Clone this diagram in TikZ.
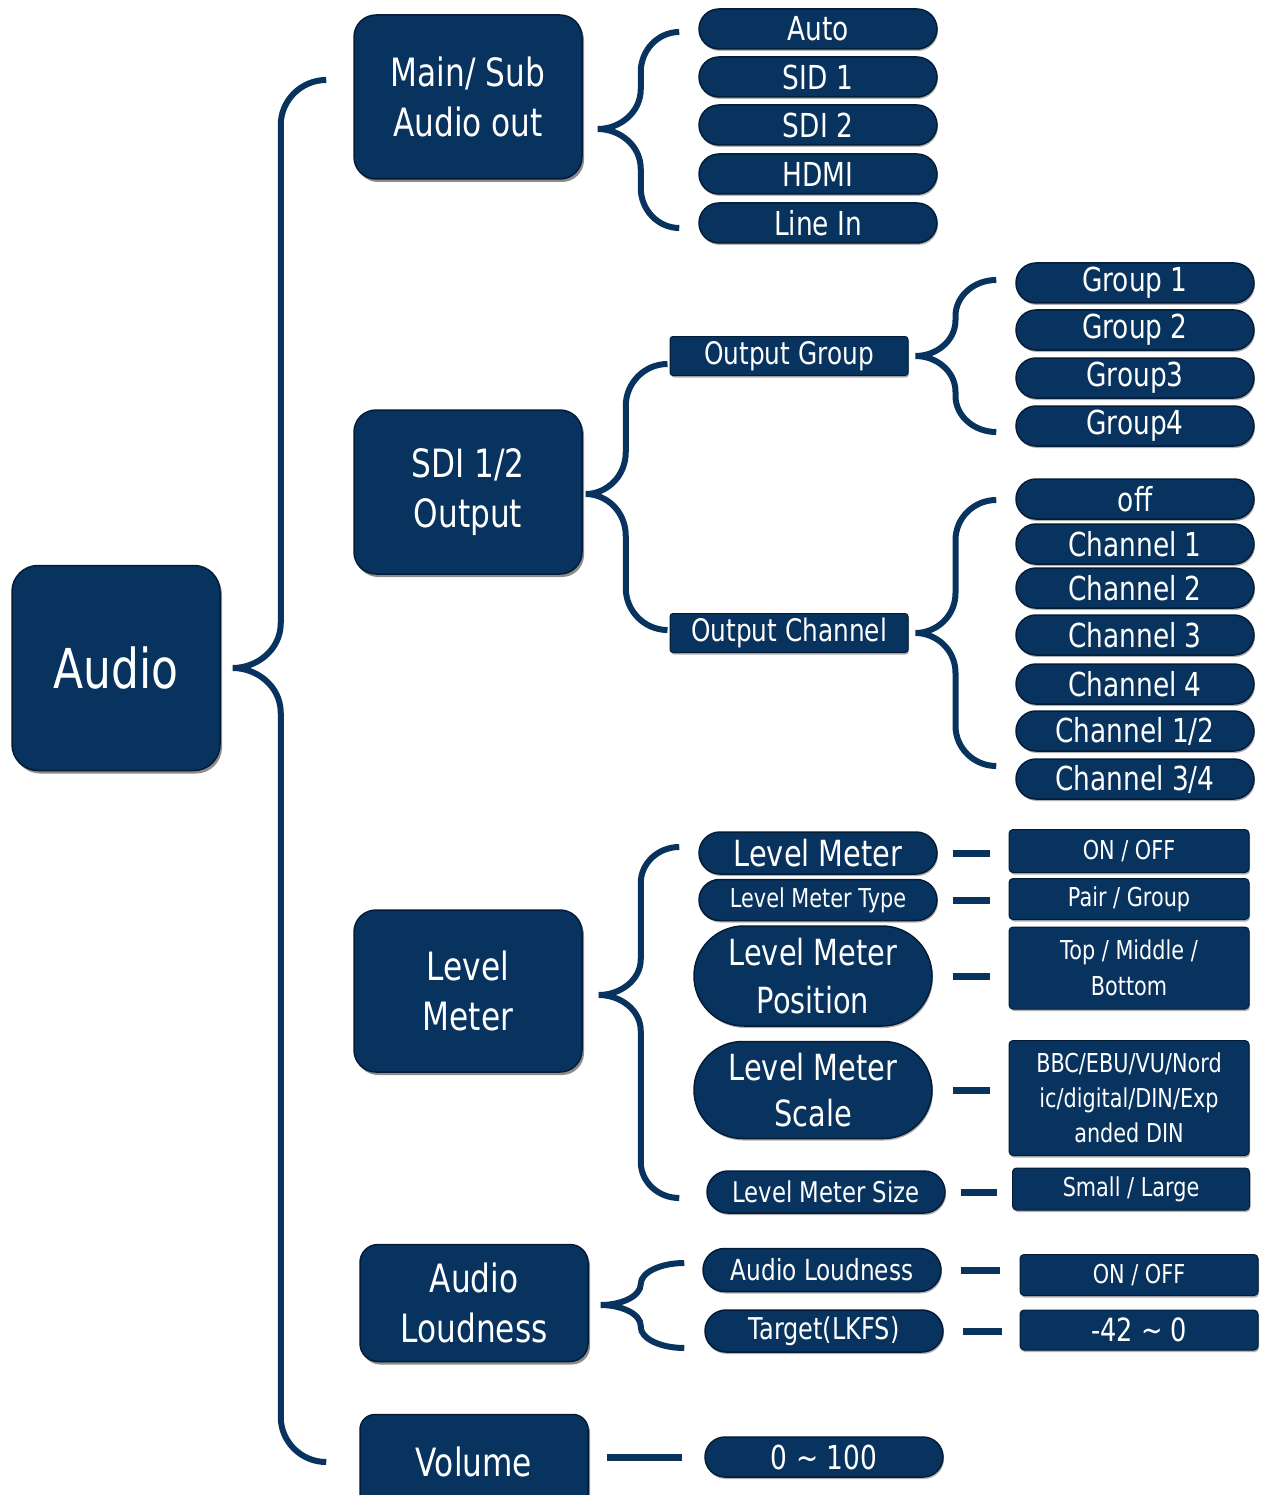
\documentclass[tikz,border=0pt]{standalone}
\usepackage{fontspec}
\setmainfont[FakeStretch=0.8]{DejaVu Sans}
\usetikzlibrary{calc,shadows,shapes.misc}
\definecolor{navy}{RGB}{8,51,94}
\definecolor{navyd}{RGB}{3,28,56}
\tikzset{
  base/.style={fill=navy, text=white, align=center, inner sep=0pt},
  bigbox/.style={base, draw=navyd, line width=1.5pt, rounded corners=22pt,
    minimum width=228pt, minimum height=164pt, font=\fontsize{39}{50}\selectfont,
    drop shadow={shadow xshift=2pt, shadow yshift=-3pt, opacity=0.45, fill=black}},
  pill/.style={base, rounded rectangle, draw=navyd, line width=1.5pt,
    minimum width=238pt, minimum height=40pt, font=\fontsize{33}{40}\selectfont,
    drop shadow={shadow xshift=1pt, shadow yshift=-2pt, opacity=0.3, fill=black}},
  tagbox/.style={base, draw=navyd, line width=1pt, rounded corners=3pt,
    minimum width=238pt, minimum height=39pt, font=\fontsize{31}{36}\selectfont,
    drop shadow={shadow xshift=1pt, shadow yshift=-2pt, opacity=0.3, fill=black}},
  valbox/.style={base, draw=navyd, line width=1pt, rounded corners=4pt,
    minimum width=240pt, font=\fontsize{26}{35}\selectfont,
    drop shadow={shadow xshift=1pt, shadow yshift=-2pt, opacity=0.3, fill=black}},
  bracestyle/.style={draw=navy, line width=6pt},
  dashline/.style={draw=navy, line width=7pt},
}
% #1 tip, #2 top end, #3 bottom end, #4 dx of vertical from tip, #5 radius
\newcommand\drawbrace[5]{%
  \draw[bracestyle] let \p1=(#1), \p2=(#2), \p3=(#3) in
    (\p2) .. controls ({\x1+#4pt+0.45*(\x2-\x1-#4pt)},\y2) and ({\x1+#4pt},{\y2-0.45*#5pt})
       .. ({\x1+#4pt},{\y2-#5pt})
    -- ({\x1+#4pt},{\y1+#5pt})
       .. controls ({\x1+#4pt},{\y1+0.4*#5pt}) and ({\x1+0.5*#4pt},\y1) .. (\p1)
       .. controls ({\x1+0.5*#4pt},\y1) and ({\x1+#4pt},{\y1-0.4*#5pt}) .. ({\x1+#4pt},{\y1-#5pt})
    -- ({\x1+#4pt},{\y3+#5pt})
       .. controls ({\x1+#4pt},{\y3+0.45*#5pt}) and ({\x1+#4pt+0.45*(\x3-\x1-#4pt)},\y3) .. (\p3);}
\begin{document}
\begin{tikzpicture}[x=1pt,y=-1pt]
\fill[white] (0,0) rectangle (1262,1495);
\useasboundingbox (0,0) rectangle (1262,1495);
\clip (0,0) rectangle (1262,1495);

% level 1/2 boxes
\node[bigbox, minimum width=208pt, minimum height=205pt, rounded corners=26pt,
  font=\fontsize{55}{60}\selectfont] (audio) at (116,668) {Audio};
\node[bigbox] (mainsub) at (468,97) {Main/ Sub\\Audio out};
\node[bigbox] (sdi) at (468,492) {SDI 1/2\\Output};
\node[bigbox, minimum height=162pt] (lvl) at (468,991) {Level\\Meter};
\node[bigbox, minimum height=117pt, rounded corners=18pt] (loud) at (474,1303) {Audio\\Loudness};
\node[bigbox, minimum height=95pt, rounded corners=15pt] (vol) at (474,1462) {Volume};

% Main/Sub options
\node[pill] (auto) at (818,29) {Auto};
\node[pill] (sid1) at (818,77) {SID 1};
\node[pill] (sdi2) at (818,125) {SDI 2};
\node[pill] (hdmi) at (818,174) {HDMI};
\node[pill] (linein) at (818,223) {Line In};

% SDI output
\node[tagbox] (og) at (789,356) {Output Group};
\node[tagbox] (oc) at (789,633) {Output Channel};
\node[pill] (g1) at (1135,283) {Group 1};
\node[pill] (g2) at (1135,330) {Group 2};
\node[pill] (g3) at (1135,378) {Group3};
\node[pill] (g4) at (1135,426) {Group4};
\node[pill] (off) at (1135,499) {off};
\node[pill] (c1) at (1135,544) {Channel 1};
\node[pill] (c2) at (1135,588) {Channel 2};
\node[pill] (c3) at (1135,635) {Channel 3};
\node[pill] (c4) at (1135,684) {Channel 4};
\node[pill] (c12) at (1135,731) {Channel 1/2};
\node[pill] (c34) at (1135,779) {Channel 3/4};

% Level meter
\node[pill, minimum height=42pt, font=\fontsize{36}{48}\selectfont] (lm1) at (818,853) {Level Meter};
\node[pill, minimum height=41pt, font=\fontsize{26}{30}\selectfont] (lm2) at (818,900) {Level Meter Type};
\node[pill, minimum height=100pt, font=\fontsize{36}{48}\selectfont] (lm3) at (813,976) {Level Meter\\Position};
\node[pill, minimum height=97pt, font=\fontsize{36}{46}\selectfont] (lm4) at (813,1090) {Level Meter\\Scale};
\node[pill, minimum height=42pt, font=\fontsize{28.5}{32}\selectfont] (lm5) at (826,1192) {Level Meter Size};
\node[valbox, minimum height=43pt] (v1) at (1129,851) {ON / OFF};
\node[valbox, minimum height=41pt] (v2) at (1129,899) {Pair / Group};
\node[valbox, minimum height=82pt, font=\fontsize{26}{36}\selectfont] (v3) at (1129,968) {Top / Middle /\\Bottom};
\node[valbox, minimum height=115pt] (v4) at (1129,1098) {BBC/EBU/VU/Nord\\ic/digital/DIN/Exp\\anded DIN};
\node[valbox, minimum width=237pt, minimum height=42pt] (v5) at (1131,1189) {Small / Large};

% Loudness
\node[pill, minimum height=43pt, font=\fontsize{29}{34}\selectfont] (al) at (822,1270) {Audio Loudness};
\node[pill, minimum height=42pt, font=\fontsize{30}{34}\selectfont] (tg) at (824,1331) {Target(LKFS)};
\node[valbox, minimum width=238pt, minimum height=41pt] (v6) at (1139,1275) {ON / OFF};
\node[valbox, minimum width=238pt, minimum height=40pt, font=\fontsize{32}{36}\selectfont] (v7) at (1139,1330) {-42 \textasciitilde\ 0};

% Volume
\node[pill, font=\fontsize{33}{36}\selectfont] (vv) at (824,1457) {0 \textasciitilde\ 100};

% braces
\drawbrace{$(audio.east)+(12,0)$}{$(mainsub.west)+(-27,-17)$}{$(vol.west)+(-33,0)$}{48}{45}
\drawbrace{$(mainsub.east)+(15,32)$}{$(auto.west)+(-19,3)$}{$(linein.west)+(-19,5)$}{43}{40}
\drawbrace{$(sdi.east)+(3,2)$}{$(og.west)+(-2,8)$}{$(oc.west)+(-2,-3)$}{40}{42}
\drawbrace{$(og.east)+(7,0)$}{$(g1.west)+(-19,-3)$}{$(g4.west)+(-19,6)$}{40}{36}
\drawbrace{$(oc.east)+(7,0)$}{$(off.west)+(-19,1)$}{$(c34.west)+(-19,-13)$}{40}{40}
\drawbrace{$(lvl.east)+(16,4)$}{$(lm1.west)+(-19,-6)$}{$(lm5.west)+(-27,6)$}{42}{36}
\drawbrace{$(loud.east)+(12,2)$}{$(al.west)+(-18,-7)$}{$(tg.west)+(-20,17)$}{40}{21}

% dashes
\draw[dashline, shorten <=15pt, shorten >=19pt] (lm1.east) -- (lm1.east -| v1.west);
\draw[dashline, shorten <=15pt, shorten >=19pt] (lm2.east) -- (lm2.east -| v2.west);
\draw[dashline, shorten <=20pt, shorten >=19pt] (lm3.east) -- (lm3.east -| v3.west);
\draw[dashline, shorten <=20pt, shorten >=19pt] (lm4.east) -- (lm4.east -| v4.west);
\draw[dashline, shorten <=15pt, shorten >=15pt] (lm5.east) -- (lm5.east -| v5.west);
\draw[dashline, shorten <=19pt, shorten >=20pt] (al.east) -- (al.east -| v6.west);
\draw[dashline, shorten <=19pt, shorten >=18pt] (tg.east) -- (tg.east -| v7.west);
\draw[dashline, shorten <=18pt, shorten >=22pt] (vol.east |- vv.west) -- (vv.west);
\end{tikzpicture}
\end{document}
